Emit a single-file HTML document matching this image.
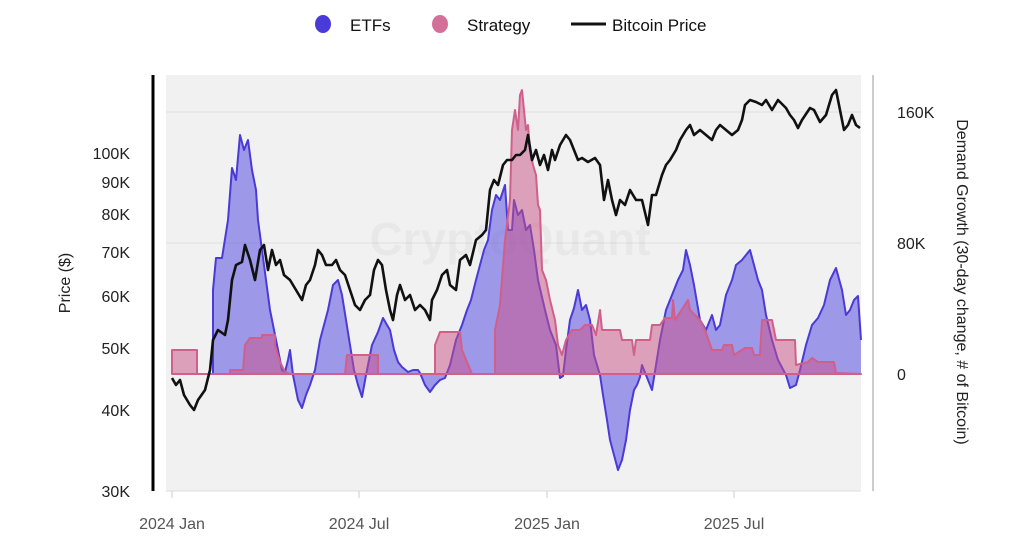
<!DOCTYPE html>
<html><head><meta charset="utf-8"><style>
html,body{margin:0;padding:0;background:#fff;}
svg{display:block;font-family:"Liberation Sans",sans-serif;}
</style></head><body>
<svg width="1024" height="560" viewBox="0 0 1024 560">
<rect x="0" y="0" width="1024" height="560" fill="#fff"/>
<rect x="166" y="75" width="695" height="416" fill="#f1f1f1"/>
<line x1="166" y1="112" x2="861" y2="112" stroke="#e0e0e0" stroke-width="1"/>
<line x1="166" y1="243" x2="861" y2="243" stroke="#e0e0e0" stroke-width="1"/>
<line x1="166" y1="491" x2="861" y2="491" stroke="#ddd" stroke-width="1"/>
<text x="510" y="255" font-size="46" fill="#000" fill-opacity="0.035" text-anchor="middle" font-weight="bold">CryptoQuant</text>
<line x1="153" y1="75" x2="153" y2="491" stroke="#000" stroke-width="3"/>
<line x1="873" y1="75" x2="873" y2="491" stroke="#ccc" stroke-width="2"/>
<g stroke="#ccc"><line x1="172" y1="491" x2="172" y2="498"/><line x1="359" y1="491" x2="359" y2="498"/><line x1="547" y1="491" x2="547" y2="498"/><line x1="734" y1="491" x2="734" y2="498"/></g>
<g font-size="16" fill="#555" text-anchor="middle"><text x="172" y="529">2024 Jan</text><text x="359" y="529">2024 Jul</text><text x="547" y="529">2025 Jan</text><text x="734" y="529">2025 Jul</text></g>
<g font-size="16" fill="#222" text-anchor="end"><text x="130" y="159">100K</text><text x="130" y="188">90K</text><text x="130" y="220">80K</text><text x="130" y="258">70K</text><text x="130" y="302">60K</text><text x="130" y="354">50K</text><text x="130" y="416">40K</text><text x="130" y="497">30K</text></g>
<text transform="translate(70,283) rotate(-90)" font-size="16" fill="#222" text-anchor="middle">Price ($)</text>
<g font-size="16" fill="#222"><text x="897" y="118">160K</text><text x="897" y="249">80K</text><text x="897" y="380">0</text></g>
<text transform="translate(957,282) rotate(90)" font-size="16" fill="#222" text-anchor="middle">Demand Growth (30-day change, # of Bitcoin)</text>
<polygon fill="#5a4ee0" fill-opacity="0.55" stroke="none" points="213,374 213,290 216,258 222,258 228,220 232,168 236,180 240,135 244,150 248,140 252,170 256,190 258,220 262,250 266,280 270,310 276,340 282,370 285,372 288,360 290,350 293,375 298,400 302,408 306,395 310,385 315,370 320,340 328,310 333,285 338,280 342,295 346,320 350,345 354,370 358,385 362,397 366,375 372,345 378,332 383,318 387,325 390,330 394,350 398,362 402,367 408,372 413,370 418,370 420,373 425,385 430,392 435,385 440,380 445,378 450,365 456,340 462,325 467,310 471,300 476,280 480,265 484,250 488,240 492,210 496,195 500,200 505,185 508,230 512,230 514,200 518,215 522,210 526,230 530,225 534,250 538,280 545,310 550,330 556,345 560,378 563,376 566,350 570,320 574,308 578,290 582,310 586,305 590,320 594,355 600,375 603,395 607,420 610,440 614,455 618,470 622,460 626,440 630,410 634,390 637,385 640,377 642,365 648,380 652,390 660,340 666,310 672,295 678,280 683,270 686,250 690,265 694,285 700,320 706,330 712,315 716,330 720,325 726,295 732,280 736,265 742,260 746,255 750,250 754,265 758,280 762,290 766,315 772,340 778,360 786,375 790,388 796,385 800,370 806,345 812,325 818,318 824,305 830,280 836,268 842,290 846,315 850,310 854,300 858,296 861,340 861,374"/>
<polyline fill="none" stroke="#4a3ad8" stroke-width="2" stroke-linejoin="round" points="213,374 213,290 216,258 222,258 228,220 232,168 236,180 240,135 244,150 248,140 252,170 256,190 258,220 262,250 266,280 270,310 276,340 282,370 285,372 288,360 290,350 293,375 298,400 302,408 306,395 310,385 315,370 320,340 328,310 333,285 338,280 342,295 346,320 350,345 354,370 358,385 362,397 366,375 372,345 378,332 383,318 387,325 390,330 394,350 398,362 402,367 408,372 413,370 418,370 420,373 425,385 430,392 435,385 440,380 445,378 450,365 456,340 462,325 467,310 471,300 476,280 480,265 484,250 488,240 492,210 496,195 500,200 505,185 508,230 512,230 514,200 518,215 522,210 526,230 530,225 534,250 538,280 545,310 550,330 556,345 560,378 563,376 566,350 570,320 574,308 578,290 582,310 586,305 590,320 594,355 600,375 603,395 607,420 610,440 614,455 618,470 622,460 626,440 630,410 634,390 637,385 640,377 642,365 648,380 652,390 660,340 666,310 672,295 678,280 683,270 686,250 690,265 694,285 700,320 706,330 712,315 716,330 720,325 726,295 732,280 736,265 742,260 746,255 750,250 754,265 758,280 762,290 766,315 772,340 778,360 786,375 790,388 796,385 800,370 806,345 812,325 818,318 824,305 830,280 836,268 842,290 846,315 850,310 854,300 858,296 861,340"/>
<polygon fill="#c94f85" fill-opacity="0.5" stroke="#d0608a" stroke-width="2" stroke-linejoin="round" points="172,374 172,350 197,350 197,374 230,374 230,370 243,370 245,345 250,338 262,338 262,335 275,335 275,345 280,362 285,372 290,374 345,374 347,355 378,355 378,374 435,374 435,345 440,332 460,332 462,350 472,374 495,374 495,330 500,305 505,240 510,200 512,130 515,110 518,130 520,95 522,90 524,110 526,130 528,125 530,150 533,165 536,175 538,205 540,210 542,270 546,280 550,300 555,320 558,345 562,355 566,340 572,330 580,330 585,325 592,325 596,335 600,310 602,330 620,330 622,340 632,340 634,355 636,340 650,340 652,325 660,325 665,318 672,318 673,300 675,320 688,300 690,310 700,320 705,330 712,350 722,350 724,345 732,345 734,355 745,348 752,348 754,355 760,355 762,320 772,320 776,340 795,340 796,365 808,362 812,358 818,362 834,362 836,373 861,374"/>
<polyline fill="none" stroke="#111" stroke-width="2.6" stroke-linejoin="round" points="172,378 176,385 180,380 184,395 190,405 194,410 198,400 205,390 210,370 213,340 218,330 225,335 228,320 232,280 236,265 242,262 245,245 250,260 255,280 260,250 264,245 268,270 272,250 276,265 280,260 284,275 290,280 296,290 302,300 306,285 310,280 315,265 318,250 322,255 326,265 332,265 336,260 340,270 345,275 350,290 355,305 360,310 365,300 370,295 374,270 378,260 382,265 386,290 390,310 393,320 397,295 400,285 405,300 410,295 415,310 420,305 425,310 430,320 432,300 437,290 442,275 447,270 450,285 456,290 460,260 466,255 470,265 476,240 482,235 486,230 490,190 494,180 498,185 503,165 507,160 512,160 516,155 520,155 525,150 528,135 532,160 536,150 540,165 544,155 548,170 552,150 555,160 560,145 566,135 570,140 574,150 578,160 582,158 588,162 595,158 600,165 604,200 608,180 612,200 616,215 620,200 625,205 630,190 636,200 642,200 648,225 652,195 656,195 662,175 666,165 670,160 676,150 680,140 686,130 690,125 694,135 700,130 706,135 712,140 716,130 720,125 726,130 732,135 738,130 742,120 745,105 750,100 756,102 762,105 766,100 772,110 778,100 786,108 790,115 794,120 798,128 802,120 810,108 814,110 820,122 826,115 832,95 836,90 840,110 844,130 848,125 852,115 856,125 860,128"/>
<ellipse cx="323" cy="24" rx="8" ry="9" fill="#4a3ad8"/>
<text x="350" y="31" font-size="17" fill="#111">ETFs</text>
<ellipse cx="440" cy="24" rx="8" ry="9" fill="#d46f9a"/>
<text x="467" y="31" font-size="17" fill="#111">Strategy</text>
<line x1="571" y1="24" x2="606" y2="24" stroke="#111" stroke-width="3"/>
<text x="612" y="31" font-size="17" fill="#111">Bitcoin Price</text>
</svg>
</body></html>
